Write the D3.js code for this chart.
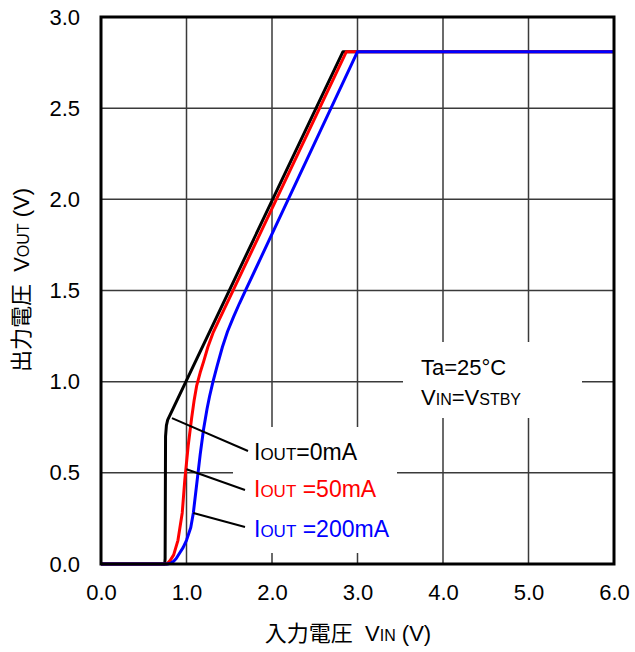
<!DOCTYPE html>
<html><head><meta charset="utf-8">
<script src="https://cdn.jsdelivr.net/npm/d3@7"></script>
<style>
html,body{margin:0;padding:0;background:#fff;}
text{font-family:"Liberation Sans",Arial,"Noto Sans CJK JP",sans-serif;}
</style></head>
<body>
<svg id="chart" width="635" height="652"></svg>
<script>
// ---- data ----
const xTickValues = [0, 1, 2, 3, 4, 5, 6];
const xTickLabels = ["0.0", "1.0", "2.0", "3.0", "4.0", "5.0", "6.0"];
const yTickValues = [0, 0.5, 1.0, 1.5, 2.0, 2.5, 3.0];
const yTickLabels = ["0.0", "0.5", "1.0", "1.5", "2.0", "2.5", "3.0"];

const vin0mA   = [0, 0.745, 0.75, 0.755, 0.765, 0.78, 2.83, 6.0];
const vout0mA  = [0, 0, 0.03, 0.70, 0.76, 0.79, 2.81, 2.81];

const vin50mA  = [0, 0.77, 0.81, 0.85, 0.9, 0.95, 0.98, 1.02, 1.06, 1.09, 1.12, 1.16, 1.2, 1.25, 1.31, 1.38, 2.87, 6.0];
const vout50mA = [0, 0, 0.02, 0.05, 0.13, 0.28, 0.46, 0.65, 0.8, 0.9, 0.98, 1.05, 1.11, 1.19, 1.267, 1.337, 2.81, 2.81];

const vin200mA  = [0, 0.78, 0.82, 0.85, 0.88, 0.92, 0.96, 1.0, 1.05, 1.08, 1.12, 1.16, 1.2, 1.24, 1.27, 1.31, 1.36, 1.42, 1.48, 1.55, 1.62, 1.7, 3.0, 6.0];
const vout200mA = [0, 0, 0.005, 0.015, 0.03, 0.06, 0.09, 0.13, 0.2, 0.28, 0.44, 0.6, 0.74, 0.85, 0.92, 1.0, 1.09, 1.19, 1.275, 1.355, 1.43, 1.51, 2.81, 2.81];

const seriesNames  = ["0mA", "50mA", "200mA"];
const seriesColors = ["#000000", "#ff0000", "#0000ff"];
// leader anchors on each curve (VIN, VOUT)
const anchorVin  = [0.83, 1.0, 1.08];
const anchorVout = [0.80, 0.52, 0.28];

// ---- layout ----
const svg = d3.select("#chart");
const L = 101, R = 614, T = 17, B = 564;
const x = d3.scaleLinear().domain([0, 6]).range([L, R]);
const y = d3.scaleLinear().domain([0, 3]).range([B, T]);

// grid
const grid = svg.append("g");
grid.selectAll("line.v").data(xTickValues.slice(1, -1)).join("line")
  .attr("x1", d => x(d)).attr("x2", d => x(d)).attr("y1", T).attr("y2", B)
  .attr("stroke", "#3a3a3a").attr("stroke-width", 1.5);
grid.selectAll("line.h").data(yTickValues.slice(1, -1)).join("line")
  .attr("x1", L).attr("x2", R).attr("y1", d => y(d)).attr("y2", d => y(d))
  .attr("stroke", "#3a3a3a").attr("stroke-width", 1.5);

// white boxes behind annotations
svg.append("rect").attr("x", 233).attr("y", 427).attr("width", 164).attr("height", 126).attr("fill", "#fff");
svg.append("rect").attr("x", 403).attr("y", 342).attr("width", 179).attr("height", 76).attr("fill", "#fff");

// axes (labels only)
const xAxis = d3.axisBottom(x).tickValues(xTickValues).tickFormat((d, i) => xTickLabels[i]).tickSize(0).tickPadding(20);
const gx = svg.append("g").attr("transform", `translate(0,${B})`).call(xAxis);
gx.select(".domain").remove();
gx.selectAll("text").attr("font-size", 22).attr("fill", "#000")
  .style("font-family", '"Liberation Sans",Arial,sans-serif');

const yAxis = d3.axisLeft(y).tickValues(yTickValues).tickFormat((d, i) => yTickLabels[i]).tickSize(0).tickPadding(21);
const gy = svg.append("g").attr("transform", `translate(${L},0)`).call(yAxis);
gy.select(".domain").remove();
gy.selectAll("text").attr("font-size", 22).attr("fill", "#000")
  .style("font-family", '"Liberation Sans",Arial,sans-serif');

// curves
const line = d3.line().x(d => x(d[0])).y(d => y(d[1])).curve(d3.curveLinear);
const series = [
  d3.zip(vin0mA, vout0mA),
  d3.zip(vin50mA, vout50mA),
  d3.zip(vin200mA, vout200mA)
];
series.forEach((pts, i) => {
  svg.append("path").datum(pts).attr("d", line)
    .attr("fill", "none").attr("stroke", seriesColors[i]).attr("stroke-width", 3)
    .attr("stroke-linejoin", "round");
});

// frame
svg.append("rect").attr("x", L).attr("y", T).attr("width", R - L).attr("height", B - T)
  .attr("fill", "none").attr("stroke", "#000").attr("stroke-width", 3);

// leader lines and labels
const labelX = 254;
const labelBase = [460, 497, 537];
const leaderEnd = [[248, 451], [245, 490], [245, 527]];
seriesNames.forEach((name, i) => {
  svg.append("line")
    .attr("x1", x(anchorVin[i])).attr("y1", y(anchorVout[i]))
    .attr("x2", leaderEnd[i][0]).attr("y2", leaderEnd[i][1])
    .attr("stroke", "#000").attr("stroke-width", 2);
  const t = svg.append("text").attr("x", labelX).attr("y", labelBase[i])
    .attr("fill", seriesColors[i]).attr("font-size", 23);
  t.append("tspan").text("I");
  t.append("tspan").attr("font-size", 17).text("OUT");
  t.append("tspan").text((i === 0 ? "" : "\u00a0") + "=" + name);
});

// condition text
const c1 = svg.append("text").attr("x", 421).attr("y", 375).attr("font-size", 22).attr("fill", "#000");
c1.text("Ta=25°C");
const c2 = svg.append("text").attr("x", 421).attr("y", 405).attr("font-size", 22).attr("fill", "#000");
c2.append("tspan").text("V");
c2.append("tspan").attr("font-size", 16).text("IN");
c2.append("tspan").text("=V");
c2.append("tspan").attr("font-size", 16).text("STBY");

// axis titles
const xt = svg.append("text").attr("x", 348).attr("y", 641).attr("text-anchor", "middle")
  .attr("font-size", 22).attr("fill", "#000");
xt.append("tspan").text("入力電圧\u00a0\u00a0V");
xt.append("tspan").attr("font-size", 16).text("IN");
xt.append("tspan").text(" (V)");

const yt = svg.append("text").attr("transform", "translate(29,280) rotate(-90)")
  .attr("text-anchor", "middle").attr("font-size", 22).attr("fill", "#000");
yt.append("tspan").text("出力電圧\u00a0\u00a0V");
yt.append("tspan").attr("font-size", 16).text("OUT");
yt.append("tspan").text(" (V)");
</script>
</body></html>
